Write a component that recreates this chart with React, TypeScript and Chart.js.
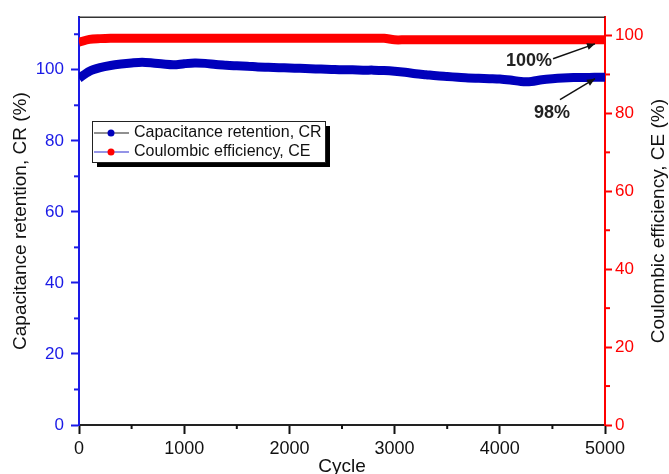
import React, { useEffect, useRef } from "react";
import { Chart, registerables } from "chart.js";

Chart.register(...registerables);

const cycles = [
  0, 100, 200, 300, 400, 500, 600, 700, 800, 900, 1000, 1100, 1200, 1300, 1400, 1500, 1600, 1700, 1800, 1900,
  2000, 2100, 2200, 2300, 2400, 2500, 2600, 2700, 2800, 2900, 3000, 3100, 3200, 3300, 3400, 3500, 3600, 3700,
  3800, 3900, 4000, 4100, 4200, 4300, 4400, 4500, 4600, 4700, 4800, 4900, 5000,
];
const crValues = [
  97.6, 99.6, 100.6, 101.2, 101.6, 101.9, 102.1, 101.9, 101.6, 101.4, 101.7, 101.9, 101.8, 101.5, 101.3, 101.1,
  101.0, 100.8, 100.7, 100.6, 100.5, 100.4, 100.3, 100.2, 100.1, 100.0, 100.0, 99.9, 99.9, 99.8, 99.6, 99.3,
  98.9, 98.6, 98.3, 98.1, 97.9, 97.7, 97.6, 97.5, 97.4, 97.1, 96.7, 96.7, 97.2, 97.5, 97.7, 97.8, 97.8, 97.9, 97.9,
];
const ceValues = [
  98.3, 99.0, 99.2, 99.3, 99.3, 99.3, 99.3, 99.3, 99.3, 99.3, 99.3, 99.3, 99.3, 99.3, 99.3, 99.3, 99.3, 99.3,
  99.3, 99.3, 99.3, 99.3, 99.3, 99.3, 99.3, 99.3, 99.3, 99.3, 99.3, 99.3, 98.9, 98.9, 98.9, 98.9, 98.9, 98.9,
  98.9, 98.9, 98.9, 98.9, 98.9, 98.9, 98.9, 98.9, 98.9, 98.9, 98.9, 98.9, 98.9, 98.9, 98.9,
];

const xTicks = [0, 1000, 2000, 3000, 4000, 5000];
const xMinorTicks = [500, 1500, 2500, 3500, 4500];
const leftMinorTicks = [10, 30, 50, 70, 90, 110];
const rightMinorTicks = [10, 30, 50, 70, 90];

const seriesNames = ["Capacitance retention, CR", "Coulombic efficiency, CE"];
const leftTitle = "Capacitance retention, CR (%)";
const rightTitle = "Coulombic efficiency, CE (%)";
const xTitle = "Cycle";

// annotations: label text position (cycle, left value) and arrow (from -> tip)
const annotationLabels = ["100%", "98%"];
const annotationText = [
  [4278, 102.5],
  [4496, 87.7],
];
const annotationArrows = [
  [4506, 103.1, 4905, 107.3],
  [4572, 91.6, 4905, 97.5],
];

const FONT = '"Liberation Sans", Arial, sans-serif';
const BLUE = "#0000bb";
const RED = "#ff0000";
const AXIS_BLUE = "#1a1ae6";

const decorPlugin = {
  id: "decor",
  afterDraw(chart: any) {
    const ctx = chart.ctx;
    const { left, right, top, bottom } = chart.chartArea;
    const xs = chart.scales.x;
    const yl = chart.scales.y;
    const yr = chart.scales.y1;
    ctx.save();
    // top frame
    ctx.strokeStyle = "#333";
    ctx.lineWidth = 1.5;
    ctx.beginPath();
    ctx.moveTo(left, top);
    ctx.lineTo(right, top);
    ctx.stroke();
    // minor ticks
    ctx.lineWidth = 2;
    ctx.strokeStyle = "#111";
    xMinorTicks.forEach((v) => {
      const p = xs.getPixelForValue(v);
      ctx.beginPath();
      ctx.moveTo(p, bottom);
      ctx.lineTo(p, bottom + 4);
      ctx.stroke();
    });
    ctx.strokeStyle = AXIS_BLUE;
    leftMinorTicks.forEach((v) => {
      const p = yl.getPixelForValue(v);
      ctx.beginPath();
      ctx.moveTo(left, p);
      ctx.lineTo(left - 5, p);
      ctx.stroke();
    });
    ctx.strokeStyle = RED;
    rightMinorTicks.forEach((v) => {
      const p = yr.getPixelForValue(v);
      ctx.beginPath();
      ctx.moveTo(right, p);
      ctx.lineTo(right + 5, p);
      ctx.stroke();
    });

    // axis titles
    ctx.fillStyle = "#111";
    ctx.font = `19px ${FONT}`;
    ctx.textAlign = "center";
    ctx.textBaseline = "middle";
    const midY = (top + bottom) / 2;
    ctx.save();
    ctx.translate(21, midY);
    ctx.rotate(-Math.PI / 2);
    ctx.fillText(leftTitle, 0, 0);
    ctx.restore();
    ctx.save();
    ctx.translate(659, midY);
    ctx.rotate(-Math.PI / 2);
    ctx.fillText(rightTitle, 0, 0);
    ctx.restore();
    ctx.fillText(xTitle, (left + right) / 2, 467);

    // legend
    const bx = 92, by = 121, bw = 233, bh = 41;
    ctx.fillStyle = "#000";
    ctx.fillRect(bx + 5, by + 5, bw, bh);
    ctx.fillStyle = "#fff";
    ctx.fillRect(bx, by, bw, bh);
    ctx.strokeStyle = "#222";
    ctx.lineWidth = 1;
    ctx.strokeRect(bx + 0.5, by + 0.5, bw, bh);
    const rows = [
      { y: 133, line: "#222", dot: BLUE },
      { y: 152, line: "#2a2ad0", dot: RED },
    ];
    rows.forEach((r, i) => {
      ctx.strokeStyle = r.line;
      ctx.lineWidth = 1.2;
      ctx.beginPath();
      ctx.moveTo(94, r.y);
      ctx.lineTo(129, r.y);
      ctx.stroke();
      ctx.fillStyle = r.dot;
      ctx.beginPath();
      ctx.arc(111, r.y, 3.5, 0, Math.PI * 2);
      ctx.fill();
      ctx.fillStyle = "#111";
      ctx.font = `16px ${FONT}`;
      ctx.textAlign = "left";
      ctx.textBaseline = "middle";
      ctx.fillText(seriesNames[i], 134, r.y);
    });

    // annotations
    annotationLabels.forEach((lab, i) => {
      const tx = xs.getPixelForValue(annotationText[i][0]);
      const ty = yl.getPixelForValue(annotationText[i][1]);
      ctx.fillStyle = "#222";
      ctx.font = `bold 18px ${FONT}`;
      ctx.textAlign = "center";
      ctx.textBaseline = "middle";
      ctx.fillText(lab, tx, ty);
      const [fx, fy, px, py] = annotationArrows[i];
      const x1 = xs.getPixelForValue(fx), y1 = yl.getPixelForValue(fy);
      const x2 = xs.getPixelForValue(px), y2 = yl.getPixelForValue(py);
      ctx.strokeStyle = "#111";
      ctx.lineWidth = 1.5;
      ctx.beginPath();
      ctx.moveTo(x1, y1);
      ctx.lineTo(x2, y2);
      ctx.stroke();
      const ang = Math.atan2(y2 - y1, x2 - x1);
      const L = 8, W = 3.5;
      ctx.fillStyle = "#111";
      ctx.beginPath();
      ctx.moveTo(x2, y2);
      ctx.lineTo(x2 - L * Math.cos(ang) + W * Math.sin(ang), y2 - L * Math.sin(ang) - W * Math.cos(ang));
      ctx.lineTo(x2 - L * Math.cos(ang) - W * Math.sin(ang), y2 - L * Math.sin(ang) + W * Math.cos(ang));
      ctx.closePath();
      ctx.fill();
    });
    ctx.restore();
  },
};

export default function App() {
  const ref = useRef<HTMLCanvasElement | null>(null);
  useEffect(() => {
    if (!ref.current) return;
    const chart = new Chart(ref.current, {
      type: "line",
      data: {
        datasets: [
          {
            label: seriesNames[0],
            data: cycles.map((c, i) => ({ x: c, y: crValues[i] })),
            borderColor: BLUE,
            backgroundColor: BLUE,
            borderWidth: 9,
            pointRadius: 0,
            tension: 0.3,
            yAxisID: "y",
          },
          {
            label: seriesNames[1],
            data: cycles.map((c, i) => ({ x: c, y: ceValues[i] })),
            borderColor: RED,
            backgroundColor: RED,
            borderWidth: 9,
            pointRadius: 0,
            tension: 0.3,
            yAxisID: "y1",
          },
        ],
      },
      options: {
        responsive: false,
        animation: false,
        layout: { padding: { top: 15, left: 0, right: 0, bottom: 0 } },
        plugins: { legend: { display: false }, tooltip: { enabled: false } },
        scales: {
          x: {
            type: "linear",
            min: 0,
            max: 5000,
            afterBuildTicks: (s: any) => {
              s.ticks = xTicks.map((v) => ({ value: v }));
            },
            afterFit: (s: any) => {
              s.height = 49;
            },
            ticks: {
              color: "#111",
              font: { family: FONT, size: 18 },
              padding: 4,
              maxRotation: 0,
              callback: (v: any) => String(v),
            },
            grid: { drawOnChartArea: false, tickLength: 9, tickColor: "#111", tickWidth: 2 },
            border: { color: "#222", width: 2 },
          },
          y: {
            type: "linear",
            position: "left",
            min: 0,
            max: 114.8,
            ticks: {
              stepSize: 20,
              includeBounds: false,
              color: AXIS_BLUE,
              font: { family: FONT, size: 17 },
              padding: 7,
              callback: (v: any) => String(v),
            },
            afterFit: (s: any) => {
              s.width = 79;
            },
            grid: { drawOnChartArea: false, tickLength: 8, tickColor: AXIS_BLUE, tickWidth: 2 },
            border: { color: AXIS_BLUE, width: 2 },
          },
          y1: {
            type: "linear",
            position: "right",
            min: 0,
            max: 104.7,
            ticks: {
              stepSize: 20,
              includeBounds: false,
              color: RED,
              font: { family: FONT, size: 17 },
              padding: 3,
              callback: (v: any) => String(v),
            },
            afterFit: (s: any) => {
              s.width = 64;
            },
            grid: { drawOnChartArea: false, tickLength: 7, tickColor: RED, tickWidth: 2 },
            border: { color: RED, width: 2 },
          },
        },
      },
      plugins: [decorPlugin],
    } as any);
    return () => chart.destroy();
  }, []);
  return (
    <div style={{ position: "fixed", left: 0, top: 0, width: 669, height: 474, background: "#fff" }}>
      <canvas ref={ref} width={669} height={474} />
    </div>
  );
}
